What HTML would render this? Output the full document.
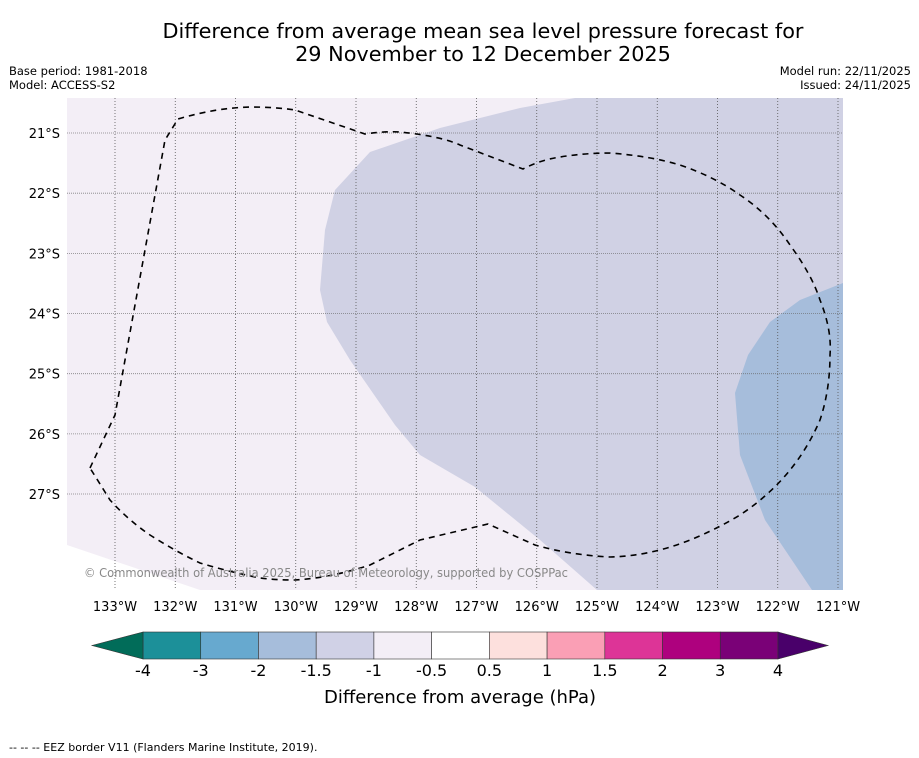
<!DOCTYPE html>
<html><head><meta charset="utf-8"><style>
body{margin:0;background:#fff;width:919px;height:758px;overflow:hidden;font-family:"DejaVu Sans","Liberation Sans",sans-serif;}
svg{position:absolute;left:0;top:0}
</style></head><body>
<svg width="919" height="758">
<text x="483" y="38" text-anchor="middle" font-size="20.8">Difference from average mean sea level pressure forecast for</text>
<text x="483" y="61" text-anchor="middle" font-size="20.8">29 November to 12 December 2025</text>
<text x="9" y="75" font-size="11.5">Base period: 1981-2018</text>
<text x="9" y="89" font-size="11.5">Model: ACCESS-S2</text>
<text x="911" y="75" font-size="11.5" text-anchor="end">Model run: 22/11/2025</text>
<text x="911" y="89" font-size="11.5" text-anchor="end">Issued: 24/11/2025</text>
<g id="map">
<rect x="67" y="98" width="776" height="492" fill="#f3eef6"/>
<polygon points="67,545 200,590 67,590" fill="#ffffff"/>
<polygon points="575,98 843,98 843,590 597,590 540,540 475,487 420,455 395,425 350,360 327,322 320,290 325,230 335,190 370,152 440,128 520,108" fill="#d0d1e4"/>
<polygon points="843,283 800,300 770,322 748,355 735,393 740,455 765,520 812,590 843,590" fill="#a6bddb"/>
<g id="grid"></g>
<path d="M90,468 L115,415 L165,140 L178,119 Q215,108 250,107 Q275,107 295,110 L365,134 Q385,131 400,132 Q440,136 460,145 L523,169 Q540,160 560,157 Q585,153 610,153 Q650,156 680,165 Q715,177 740,195 Q770,215 790,245 Q812,275 820,300 Q832,330 830,355 Q830,390 820,420 Q808,448 790,470 Q770,495 740,515 Q715,530 690,540 Q650,556 610,557 Q570,555 535,545 L488,524 L420,540 L370,565 Q330,578 295,580 Q275,580 260,578 Q230,572 200,563 Q175,551 150,535 Q128,520 110,500 Z" fill="none" stroke="#000" stroke-width="1.6" stroke-dasharray="6,5"/>
<text x="84" y="577" font-size="12" fill="#888" font-family="'DejaVu Sans',sans-serif" textLength="484" lengthAdjust="spacingAndGlyphs">© Commonwealth of Australia 2025, Bureau of Meteorology, supported by COSPPac</text>
</g>
<g id="axes"></g>
<g id="cbar"></g>
<text x="460" y="703" text-anchor="middle" font-size="18">Difference from average (hPa)</text>
<text x="9" y="751" font-size="11">--  --  -- EEZ border V11 (Flanders Marine Institute, 2019).</text>
</svg>
<script>
const lonTicks=[133,132,131,130,129,128,127,126,125,124,123,122,121];
const latTicks=[21,22,23,24,25,26,27];
const cbarBounds=["-4","-3","-2","-1.5","-1","-0.5","0.5","1","1.5","2","3","4"];
const cbarColors=["#1c9099","#67a9cf","#a6bddb","#d0d1e6","#f3eef6","#ffffff","#fde0dd","#fa9fb5","#dd3497","#ae017e","#7a0177"];
const NS="http://www.w3.org/2000/svg";
function xLon(l){return 115+(133-l)*60.25;}
function yLat(l){return 133+(l-21)*60.17;}
function mk(t,a,p){const e=document.createElementNS(NS,t);for(const k in a)e.setAttribute(k,a[k]);p.appendChild(e);return e;}
const grid=document.getElementById('grid'),axes=document.getElementById('axes'),cb=document.getElementById('cbar');
lonTicks.forEach(l=>{const x=xLon(l);
const g=mk('line',{x1:x,x2:x,y1:98,y2:590,stroke:'#555','stroke-width':0.8,'stroke-dasharray':'1,2'},grid);


const t=mk('text',{x:x,y:611,'text-anchor':'middle','font-size':13},axes);t.textContent=l+'°W';

});
latTicks.forEach(l=>{const y=yLat(l);
const g=mk('line',{x1:67,x2:843,y1:y,y2:y,stroke:'#666','stroke-width':0.8,'stroke-dasharray':'1,1','opacity':0.8},grid);


const t=mk('text',{x:60,y:y+5,'text-anchor':'end','font-size':13},axes);t.textContent=l+'°S';

});
const x0=143,x1=778,w=(x1-x0)/cbarColors.length,y0=632,h=27;
cbarColors.forEach((c,i)=>{const r=mk('rect',{x:x0+i*w,y:y0,width:w,height:h,fill:c,stroke:'#333','stroke-width':0.6},cb);

});
const lt=mk('polygon',{points:`${x0},${y0} 92,${y0+h/2} ${x0},${y0+h}`,fill:'#016c59',stroke:'#333','stroke-width':0.6},cb);


const rt=mk('polygon',{points:`${x1},${y0} 828,${y0+h/2} ${x1},${y0+h}`,fill:'#49006a',stroke:'#333','stroke-width':0.6},cb);


cbarBounds.forEach((b,i)=>{const t=mk('text',{x:x0+i*w,y:676,'text-anchor':'middle','font-size':16},cb);t.textContent=b;

});
</script>
</body></html>
